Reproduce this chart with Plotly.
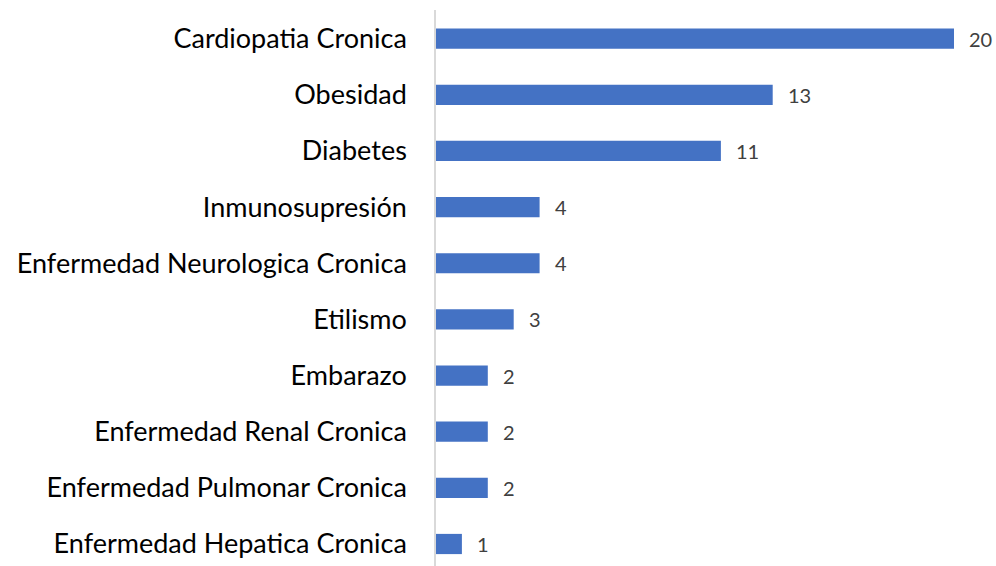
import plotly.graph_objects as go

categories = [
    "Enfermedad Hepatica Cronica",
    "Enfermedad Pulmonar Cronica",
    "Enfermedad Renal Cronica",
    "Embarazo",
    "Etilismo",
    "Enfermedad Neurologica Cronica",
    "Inmunosupresión",
    "Diabetes",
    "Obesidad",
    "Cardiopatia Cronica",
]
values = [1, 2, 2, 2, 3, 4, 4, 11, 13, 20]

positions = list(range(len(categories)))

fig = go.Figure()
fig.add_trace(go.Bar(
    x=values,
    y=positions,
    orientation="h",
    marker=dict(color="#4472C4", line=dict(width=0)),
    width=0.36,
    hoverinfo="skip",
))

for v, p in zip(values, positions):
    fig.add_annotation(
        x=v, y=p, text=str(v), showarrow=False,
        xanchor="left", yanchor="middle", xshift=13,
        font=dict(family="Lato, sans-serif", size=20, color="#404040"),
    )

fig.update_layout(
    width=996, height=566,
    margin=dict(l=436, r=4, t=10, b=0),
    paper_bgcolor="white", plot_bgcolor="white",
    showlegend=False,
    font=dict(family="Lato, sans-serif"),
    xaxis=dict(range=[0, 556 / 25.9], visible=False, fixedrange=True),
    yaxis=dict(
        range=[-0.392, 9.511],
        tickvals=positions, ticktext=categories,
        showline=True, linecolor="#d9d9d9", linewidth=1.5,
        showgrid=False, zeroline=False, ticks="",
        ticklabelstandoff=22,
        tickfont=dict(family="Lato, sans-serif", size=27, color="#000000"),
    ),
)

fig.write_html(
    "out.html",
    config={"displayModeBar": False},
    post_script="document.body.style.margin='0';document.body.style.overflow='hidden';",
)
